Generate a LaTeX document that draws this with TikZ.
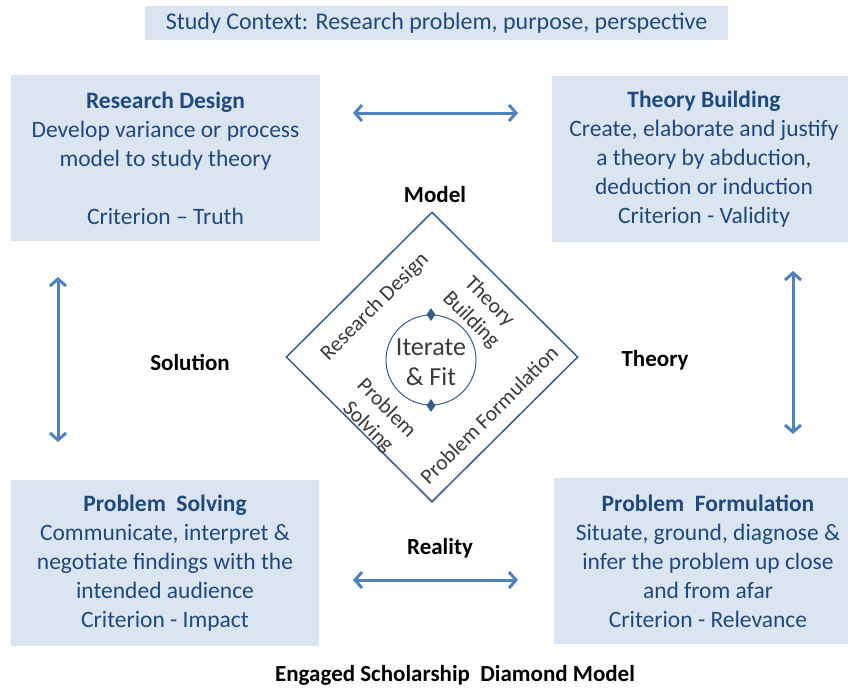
\documentclass[tikz,border=0pt]{standalone}
\usepackage{fontspec}
\setmainfont{Carlito}
\usetikzlibrary{arrows.meta,shapes.geometric}
\definecolor{boxfill}{HTML}{DBE5F1}
\definecolor{boxtext}{HTML}{1F497D}
\definecolor{arrowblue}{HTML}{4F81BD}
\definecolor{diamline}{HTML}{385D8A}
\definecolor{dtext}{HTML}{3A3A3A}
\begin{document}
\begin{tikzpicture}[x=1pt,y=-1pt,
  box/.style={fill=boxfill, draw=none, minimum width=#1, minimum height=166pt,
    align=center, text=boxtext, font=\fontsize{23.5}{29}\selectfont, inner sep=0pt},
  ctxbox/.style={fill=boxfill, draw=none, minimum width=583pt, minimum height=34pt,
    text=boxtext, font=\fontsize{24}{28}\selectfont, inner sep=0pt},
  lbl/.style={font=\fontsize{23}{27}\selectfont\bfseries, text=black, inner sep=0pt},
  dlbl/.style={font=\fontsize{21.5}{26}\selectfont, text=dtext, align=center, inner sep=0pt},
  dbl/.style={draw=arrowblue, line width=3pt,
    {Straight Barb[length=7pt,width=16pt,line width=3pt]}-{Straight Barb[length=7pt,width=16pt,line width=3pt]}}]
\useasboundingbox (0,0) rectangle (848,689);

\node[ctxbox] (ctx) at (436.5,23) {Study Context: Research problem, purpose, perspective};

\node[box=309pt] (rd) at (165.5,158) {{\bfseries Research Design}\\Develop variance or process\\model to study theory\\[29pt]Criterion -- Truth};
\node[box=304pt] (tb) at (704,159) {{\bfseries Theory Building}\\Create, elaborate and justify\\a theory by abduction,\\deduction or induction\\Criterion - Validity};
\node[box=308pt] (ps) at (165,563) {{\bfseries Problem\ \ Solving}\\Communicate, interpret \&\\negotiate findings with the\\intended audience\\Criterion - Impact};
\node[box=308pt] (pf) at (708,561) {{\bfseries Problem\ \ Formulation}\\Situate, ground, diagnose \&\\infer the problem up close\\and from afar\\Criterion - Relevance};

% arrows
\coordinate (tl) at (353,113); \coordinate (tr) at (518,113);
\coordinate (bl) at (353,580); \coordinate (br) at (518,580);
\coordinate (lt) at (58,277);  \coordinate (lb) at (58,442);
\coordinate (rt) at (793,271); \coordinate (rb) at (793,434);
\draw[dbl] (tl) -- (tr);
\draw[dbl] (bl) -- (br);
\draw[dbl] (lt) -- (lb);
\draw[dbl] (rt) -- (rb);

% labels
\node[lbl] (lm) at (435,195) {Model};
\node[lbl] (ls) at (190,362) {Solution};
\node[lbl] (lt2) at (655,360) {Theory};
\node[lbl] (lr) at (440,548) {Reality};
\node[lbl] (foot) at (455,675) {Engaged Scholarship\ \ Diamond Model};

% diamond
\node[diamond, draw=diamline, line width=1.5pt, fill=white, minimum width=292pt,
  minimum height=290pt, inner sep=0pt] (dm) at (432,357) {};
\node[circle, draw=diamline, line width=1pt, minimum size=90pt, inner sep=0pt] (cyc) at (431,360) {};
\node[diamond, fill=diamline, minimum width=9pt, minimum height=13pt, inner sep=0pt] (mt) at (cyc.north) {};
\node[diamond, fill=diamline, minimum width=9pt, minimum height=13pt, inner sep=0pt] (mb) at (cyc.south) {};
\node[font=\fontsize{26}{30}\selectfont, text=dtext, align=center, inner sep=0pt] (it) at (431,362) {Iterate\\\& Fit};

\node[dlbl, rotate=45] (drd) at (375,307) {Research Design};
\node[dlbl, rotate=-45] (dtb) at (480,311) {Theory\\Building};
\node[dlbl, rotate=-45] (dps) at (377,418) {Problem\\Solving};
\node[dlbl, rotate=45] (dpf) at (489,415) {Problem Formulation};
\end{tikzpicture}
\end{document}
